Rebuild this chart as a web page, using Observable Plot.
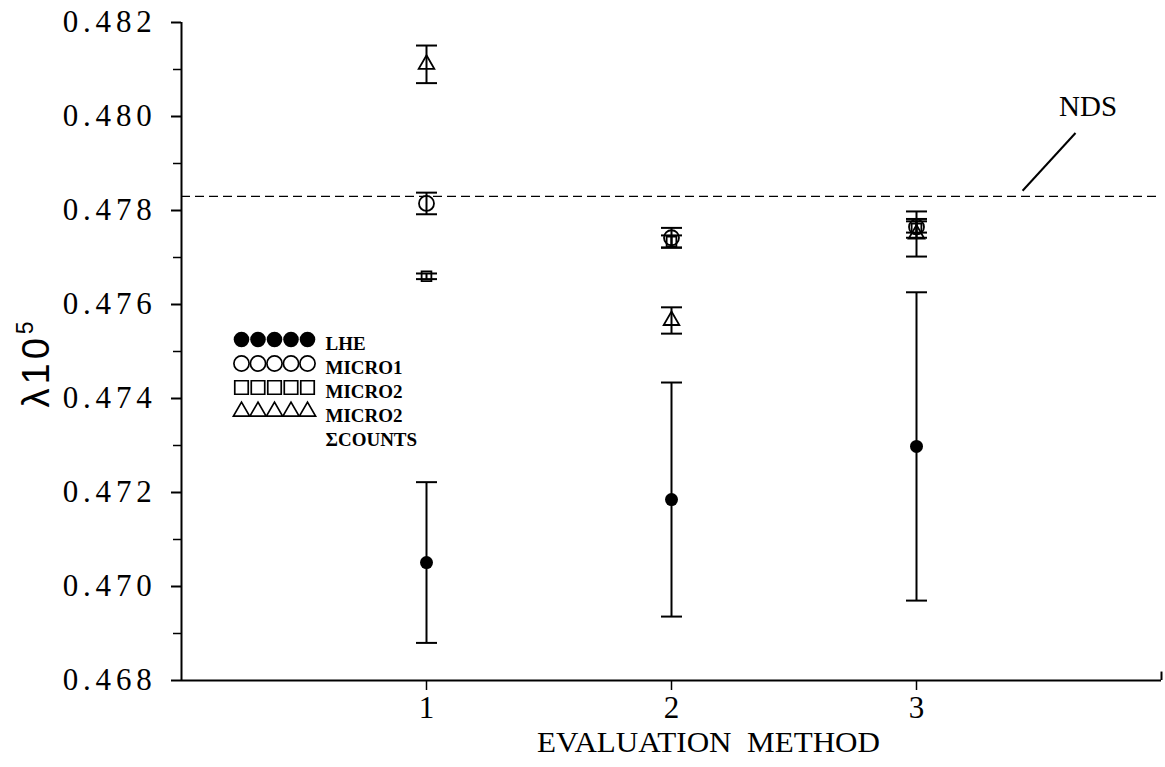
<!DOCTYPE html>
<html>
<head>
<meta charset="utf-8">
<script src="https://cdn.jsdelivr.net/npm/d3@7"></script>
<script src="https://cdn.jsdelivr.net/npm/@observablehq/plot@0.6"></script>
<style>
  body { margin: 0; background: #fff; }
  #chart { width: 1165px; height: 767px; }
  svg { overflow: visible; }
  g[aria-label="y-axis tick label"] text { font-family: "Liberation Serif", serif; font-size: 31px; letter-spacing: 4.8px; }
  g[aria-label="x-axis tick label"] text { font-family: "Liberation Serif", serif; font-size: 31px; }
</style>
</head>
<body>
<div id="chart"></div>
<script>
// ---- data ----
const methods = [1, 2, 3];
const lheValues = [0.47051, 0.47185, 0.47298];
const lheErrors = [0.00171, 0.00249, 0.00328];
const micro1Values = [0.47815, 0.47742, 0.47765];
const micro1Errors = [0.00023, 0.00021, 0.00012];
const micro2Values = [0.47660, 0.47734, 0.47762];
const micro2Errors = [0.00006, 0.00013, 0.00020];
const sumValues = [0.48111, 0.47566, 0.47750];
const sumErrors = [0.00040, 0.00028, 0.00048];
const ndsValue = 0.4783;
const yTicks = [0.468, 0.470, 0.472, 0.474, 0.476, 0.478, 0.480, 0.482];
const yMinorTicks = [0.469, 0.471, 0.473, 0.475, 0.477, 0.479, 0.481];
const xTicks = [1, 2, 3];
const xDomain = [0, 4];
const legendLabels = ["LHE", "MICRO1", "MICRO2", "MICRO2", "ΣCOUNTS"];
const ndsLabel = ["NDS"];
const ndsLabelPos = [{x: 3.70, y: 0.48021}];
const ndsLeader = [{x1: 3.649, y1: 0.47965, x2: 3.433, y2: 0.47842}];
const xLabel = "EVALUATION\u2002METHOD";
const yLabel = "λ10⁵";

// ---- build ----
const seriesDefs = [
  {name: "LHE", values: lheValues, errors: lheErrors, symbol: "circle", r: 6.5, fill: "black", stroke: "none", legendR: 7.8},
  {name: "MICRO1", values: micro1Values, errors: micro1Errors, symbol: "circle", r: 7.5, fill: "none", stroke: "black", legendR: 7.6},
  {name: "MICRO2", values: micro2Values, errors: micro2Errors, symbol: "square", r: 5.5, fill: "none", stroke: "black", legendR: 7.6},
  {name: "MICRO2 ΣCOUNTS", values: sumValues, errors: sumErrors, symbol: "triangle", r: 5.8, fill: "none", stroke: "black", legendR: 6}
];
const points = seriesDefs.flatMap(s => methods.map((m, i) => ({
  series: s.name, method: m, value: s.values[i],
  lo: s.values[i] - s.errors[i], hi: s.values[i] + s.errors[i]
})));

const capSymbol = {draw(ctx, size) { const w = Math.sqrt(size / Math.PI); ctx.moveTo(-w, 0); ctx.lineTo(w, 0); }};

const marginLeft = 181, marginTop = 22;
const legendMarks = [];
seriesDefs.forEach((s, row) => {
  for (let k = 0; k < 5; k++) {
    legendMarks.push(Plot.dot([0], {
      frameAnchor: "top-left", dx: 60 + 16.5 * k, dy: 317 + 24 * row,
      symbol: s.symbol, r: s.legendR, fill: s.fill, stroke: s.stroke, strokeWidth: 1.7
    }));
  }
});
legendMarks.push(Plot.text([legendLabels.join("\n")], {
  frameAnchor: "top-left", dx: 144, dy: 310.5, textAnchor: "start", lineAnchor: "top",
  lineHeight: 24 / 19, fontSize: 19, fontWeight: "bold", fontFamily: "Liberation Serif", fill: "black"
}));

const chart = Plot.plot({
  width: 1165, height: 767,
  marginLeft, marginTop, marginRight: 4, marginBottom: 87,
  style: {background: "white", color: "black", fontFamily: "Liberation Serif", overflow: "visible"},
  x: {domain: xDomain},
  y: {domain: [yTicks[0], yTicks[yTicks.length - 1]]},
  marks: [
    Plot.ruleY([ndsValue], {stroke: "black", strokeWidth: 1.4, strokeDasharray: "9,5"}),
    Plot.ruleX([xDomain[0]], {stroke: "black", strokeWidth: 2}),
    Plot.ruleY([yTicks[0]], {stroke: "black", strokeWidth: 2}),
    Plot.ruleX([xDomain[1]], {y1: yTicks[0], y2: yTicks[0] + 0.00018, stroke: "black", strokeWidth: 2}),
    Plot.axisY({ticks: yMinorTicks, tickSize: 8, tickFormat: () => "", strokeWidth: 1.5}),
    Plot.axisY({ticks: yTicks, tickSize: 10, tickPadding: 15, tickFormat: d3.format(".3f"), strokeWidth: 2, label: null}),
    Plot.axisX({ticks: xTicks, tickSize: 10, tickPadding: 5, tickFormat: d3.format("d"), strokeWidth: 1.5, label: null}),
    Plot.text([xLabel], {frameAnchor: "bottom", dx: 37, dy: 71, fontSize: 30, fontFamily: "Liberation Serif", fill: "black"}),
    Plot.text([yLabel], {frameAnchor: "left", rotate: -90, dx: -145, dy: 56, textAnchor: "start", fontSize: 38, fontFamily: "Liberation Sans", fill: "black"}),
    Plot.link(points, {x1: "method", x2: "method", y1: "lo", y2: "hi", stroke: "black", strokeWidth: 2}),
    Plot.dot(points, {x: "method", y: "lo", symbol: capSymbol, r: 10.5, fill: "none", stroke: "black", strokeWidth: 2}),
    Plot.dot(points, {x: "method", y: "hi", symbol: capSymbol, r: 10.5, fill: "none", stroke: "black", strokeWidth: 2}),
    ...seriesDefs.map(s => Plot.dot(points.filter(p => p.series === s.name), {
      x: "method", y: "value", symbol: s.symbol, r: s.r, fill: s.fill, stroke: s.stroke, strokeWidth: 1.8
    })),
    Plot.link(ndsLeader, {x1: "x1", y1: "y1", x2: "x2", y2: "y2", stroke: "black", strokeWidth: 2}),
    Plot.text(ndsLabelPos, {x: "x", y: "y", text: () => ndsLabel[0], fontSize: 29, fontFamily: "Liberation Serif", fill: "black"}),
    ...legendMarks
  ]
});
document.getElementById("chart").appendChild(chart);

for (const t of chart.querySelectorAll("text")) {
  // superscript for the y label
  if (t.textContent === yLabel) {
    t.textContent = "";
    t.setAttribute("letter-spacing", "4");
    const a = document.createElementNS("http://www.w3.org/2000/svg", "tspan");
    a.textContent = "λ10";
    const b = document.createElementNS("http://www.w3.org/2000/svg", "tspan");
    b.textContent = "5";
    b.setAttribute("font-size", "23");
    b.setAttribute("dy", "-16");
    t.appendChild(a); t.appendChild(b);
  }
  // condensed x-axis title
  if (t.textContent === xLabel) {
    t.setAttribute("textLength", "343");
    t.setAttribute("lengthAdjust", "spacingAndGlyphs");
  }
}
</script>
</body>
</html>
